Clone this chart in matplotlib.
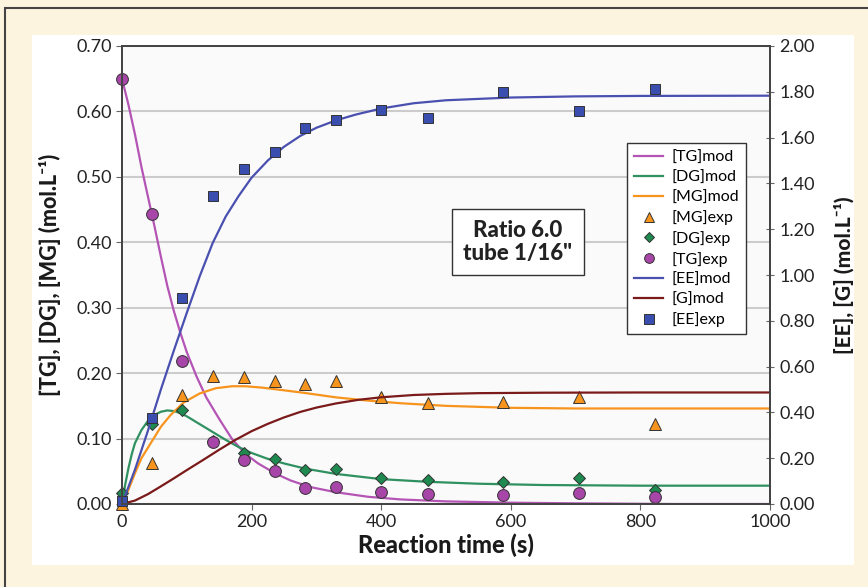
import numpy as np
import matplotlib.pyplot as plt
from matplotlib.patches import Rectangle
from matplotlib.lines import Line2D

plt.rcParams['font.family'] = ['Lato', 'DejaVu Sans']

# experimental points
t_exp = [0, 46, 93, 140, 188, 236, 283, 330, 400, 472, 588, 706, 823]
tg_exp = [0.65, 0.443, 0.219, 0.094, 0.067, 0.050, 0.025, 0.026, 0.018, 0.015, 0.013, 0.017, 0.011]
dg_exp = [0.017, 0.123, 0.143, 0.097, 0.078, 0.069, 0.052, 0.053, 0.039, 0.036, 0.033, 0.039, 0.022]
mg_exp = [0.0, 0.062, 0.166, 0.195, 0.194, 0.188, 0.184, 0.188, 0.163, 0.155, 0.156, 0.163, 0.123]
ee_exp = [0.015, 0.375, 0.90, 1.345, 1.465, 1.539, 1.644, 1.676, 1.72, 1.684, 1.797, 1.714, 1.812]

# model curves
t_tg = [0, 10, 20, 30, 40, 50, 60, 70, 80, 90, 100, 115, 130, 150, 170, 190, 210, 236, 260, 290,
        330, 380, 430, 500, 600, 700, 850, 1000]
tg_mod = [0.65, 0.61, 0.565, 0.515, 0.47, 0.425, 0.378, 0.333, 0.295, 0.262, 0.232, 0.195, 0.163,
          0.13, 0.099, 0.077, 0.062, 0.047, 0.036, 0.026, 0.018, 0.011, 0.007, 0.004, 0.002, 0.001,
          0.0, 0.0]

t_dg = [0, 5, 10, 15, 20, 30, 40, 50, 60, 70, 80, 90, 100, 120, 140, 160, 180, 200, 225, 250, 283,
        330, 400, 470, 550, 650, 800, 1000]
dg_mod = [0.0, 0.03, 0.055, 0.076, 0.093, 0.113, 0.127, 0.136, 0.141, 0.143, 0.142, 0.139, 0.134,
          0.122, 0.11, 0.098, 0.087, 0.078, 0.069, 0.062, 0.054, 0.046, 0.038, 0.034, 0.031, 0.029,
          0.028, 0.028]

t_mg = [0, 10, 20, 30, 45, 60, 75, 95, 120, 145, 170, 190, 215, 240, 280, 330, 380, 430, 500, 600,
        700, 1000]
mg_mod = [0.0, 0.022, 0.047, 0.07, 0.094, 0.118, 0.136, 0.155, 0.169, 0.177, 0.18, 0.18, 0.178,
          0.175, 0.17, 0.163, 0.158, 0.154, 0.15, 0.147, 0.146, 0.146]

t_ee = [0, 20, 40, 60, 80, 100, 120, 140, 160, 180, 200, 225, 250, 275, 300, 330, 360, 400, 450,
        500, 600, 700, 800, 1000]
ee_mod = [0.0, 0.15, 0.32, 0.5, 0.67, 0.835, 0.995, 1.14, 1.255, 1.345, 1.425, 1.50, 1.56, 1.607,
          1.643, 1.675, 1.70, 1.727, 1.75, 1.763, 1.775, 1.78, 1.782, 1.783]

t_g = [0, 20, 40, 60, 80, 100, 125, 150, 175, 200, 225, 250, 275, 300, 330, 365, 400, 450, 500,
       550, 650, 800, 1000]
g_mod = [0.0, 0.015, 0.043, 0.077, 0.112, 0.148, 0.192, 0.237, 0.28, 0.318, 0.35, 0.378, 0.402,
         0.421, 0.439, 0.455, 0.466, 0.476, 0.481, 0.484, 0.486, 0.487, 0.487]

c_tg, c_dg, c_mg = '#b454b4', '#2f9060', '#f7941d'
c_ee, c_g = '#4a50b0', '#7a1a1a'
m_tg, m_dg, m_ee = '#a845a8', '#1f8a50', '#3a4eb0'

fig = plt.figure(figsize=(8.68, 5.87), dpi=100)
fig.patch.set_facecolor('#fcf4df')
fig.patches.append(Rectangle((5 / 868, -0.1), 1.2, 1 - 8 / 587 + 0.1, transform=fig.transFigure,
                             facecolor='none', edgecolor='#444444', lw=1.5, zorder=-10))
fig.patches.append(Rectangle((32 / 868, 1 - 565 / 587), (854 - 32) / 868, (565 - 35) / 587,
                             transform=fig.transFigure, facecolor='white', edgecolor='none',
                             zorder=-9))

ax = fig.add_axes([122 / 868, 1 - 504 / 587, 648 / 868, 458 / 587])
ax.set_facecolor('#fafafa')
ax2 = ax.twinx()

ax.plot(t_tg, tg_mod, color=c_tg, lw=1.6)
ax.plot(t_dg, dg_mod, color=c_dg, lw=1.6)
ax.plot(t_mg, mg_mod, color=c_mg, lw=1.6)
ax.plot(t_exp, mg_exp, '^', color=c_mg, mec='#333333', mew=0.7, ms=8.5, clip_on=False)
ax.plot(t_exp, dg_exp, 'D', color=m_dg, mec='#333333', mew=0.7, ms=6, clip_on=False)
ax.plot(t_exp, tg_exp, 'o', color=m_tg, mec='#333333', mew=0.7, ms=8.5, clip_on=False)
ax2.plot(t_ee, ee_mod, color=c_ee, lw=1.6)
ax2.plot(t_g, g_mod, color=c_g, lw=1.6)
ax2.plot(t_exp, ee_exp, 's', color=m_ee, mec='#333333', mew=0.7, ms=7.5, clip_on=False)

ax.set_xlim(0, 1000)
ax.set_ylim(0, 0.7)
ax2.set_ylim(0, 2.0)
ax.set_xticks(np.arange(0, 1001, 200))
ax.set_yticks(np.arange(0, 0.71, 0.1))
ax2.set_yticks(np.arange(0, 2.01, 0.2))
ax.yaxis.set_major_formatter(plt.FormatStrFormatter('%.2f'))
ax2.yaxis.set_major_formatter(plt.FormatStrFormatter('%.2f'))
ax.grid(axis='y', color='#cccccc', lw=1.5)
ax.set_axisbelow(True)
for a in (ax, ax2):
    for s in a.spines.values():
        s.set_color('#444444')
        s.set_linewidth(1.3)
ax.tick_params(axis='both', labelsize=13, length=4, color='#666666', labelcolor='#222222')
ax2.tick_params(axis='y', labelsize=13, length=6, direction='inout', color='#666666',
                labelcolor='#222222')

lab = dict(fontweight='black', color='#1a1a1a')
ax.set_xlabel('Reaction time (s)', fontsize=17, labelpad=2, **lab)
ax.set_ylabel('[TG], [DG], [MG] (mol.L\u207b\u00b9)', fontsize=15.5, labelpad=11, **lab)
ax2.set_ylabel('[EE], [G] (mol.L\u207b\u00b9)', fontsize=15, labelpad=14, **lab)

ax.text(611, 0.40, 'Ratio 6.0\ntube 1/16"', fontsize=16, fontweight='black', ha='center',
        va='center', linespacing=1.1, color='#222222',
        bbox=dict(boxstyle='square,pad=0.5', fc='white', ec='#333333', lw=1))

handles = [
    Line2D([], [], color=c_tg, lw=1.6),
    Line2D([], [], color=c_dg, lw=1.6),
    Line2D([], [], color=c_mg, lw=1.6),
    Line2D([], [], ls='', marker='^', color=c_mg, mec='#333333', mew=0.7, ms=7),
    Line2D([], [], ls='', marker='D', color=m_dg, mec='#333333', mew=0.7, ms=5),
    Line2D([], [], ls='', marker='o', color=m_tg, mec='#333333', mew=0.7, ms=7),
    Line2D([], [], color=c_ee, lw=1.6),
    Line2D([], [], color=c_g, lw=1.6),
    Line2D([], [], ls='', marker='s', color=m_ee, mec='#333333', mew=0.7, ms=6.5),
]
labels = ['[TG]mod', '[DG]mod', '[MG]mod', '[MG]exp', '[DG]exp', '[TG]exp', '[EE]mod',
          '[G]mod', '[EE]exp']
leg = ax2.legend(handles, labels, loc='upper right', bbox_to_anchor=(0.975, 0.805), fontsize=11.5,
                 frameon=True, fancybox=False, edgecolor='#333333', framealpha=1,
                 handlelength=1.8, handletextpad=0.5, labelspacing=0.36, borderpad=0.45)
leg.get_frame().set_linewidth(1)

fig.savefig('out.png', dpi=100, facecolor=fig.get_facecolor())
